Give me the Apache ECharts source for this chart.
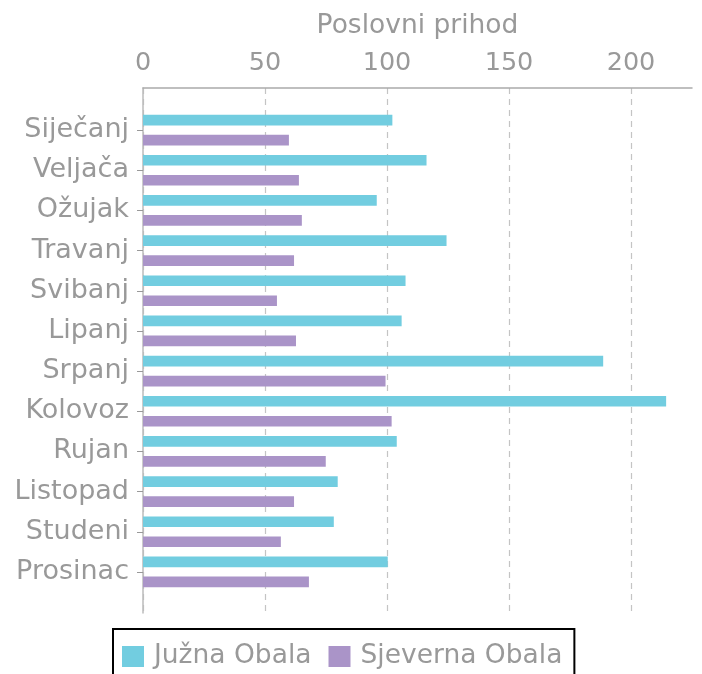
<!DOCTYPE html>
<html>
<head>
<meta charset="utf-8">
<script src="https://cdn.jsdelivr.net/npm/echarts@6/dist/echarts.min.js"></script>
<style>
  html, body { margin: 0; padding: 0; background: #fff; }
  #chart { width: 702px; height: 674px; }
</style>
</head>
<body>
<div id="chart"></div>
<script>
// podaci
const months = ['Siječanj', 'Veljača', 'Ožujak', 'Travanj', 'Svibanj', 'Lipanj',
  'Srpanj', 'Kolovoz', 'Rujan', 'Listopad', 'Studeni', 'Prosinac']
const juznaObala = [102.2, 116.2, 95.8, 124.4, 107.6, 106.0, 188.6, 214.4, 104.0, 79.8, 78.2, 100.3]
const sjevernaObala = [59.8, 63.9, 65.1, 61.9, 54.9, 62.7, 99.4, 101.9, 74.9, 61.9, 56.5, 68.0]
const xTicks = [0, 50, 100, 150, 200]

const font = 'DejaVu Sans'
const grey = '#999999'

const chart = echarts.init(document.getElementById('chart'))

chart.setOption({
  animation: false,
  textStyle: { fontFamily: font },
  legend: {
    left: 113,
    top: 629,
    orient: 'horizontal',
    borderColor: '#000',
    borderWidth: 2,
    borderRadius: 0,
    padding: [14, 12, 20, 9],
    itemWidth: 22,
    itemHeight: 21,
    itemGap: 17,
    icon: 'rect',
    textStyle: { color: grey, fontSize: 26.5, fontFamily: font, padding: [0, 0, 0, 5] },
    data: ['Južna Obala', 'Sjeverna Obala']
  },
  grid: [
    // okvir: os i mreža
    { left: 143, right: 10, top: 88, bottom: 61 },
    // stupci
    { left: 143, right: 10, top: 110, bottom: 82 }
  ],
  xAxis: [
    {
      gridIndex: 0,
      type: 'value',
      position: 'top',
      min: 0,
      max: 225,
      interval: 50,
      name: 'Poslovni prihod',
      nameLocation: 'middle',
      nameGap: 48,
      nameTextStyle: { color: grey, fontSize: 26.5, fontFamily: font },
      axisLine: { show: true, onZero: false, lineStyle: { color: '#aaaaaa', width: 1.5 } },
      axisTick: { show: false },
      axisLabel: {
        color: grey,
        fontSize: 25.5,
        fontFamily: font,
        margin: 12,
        formatter: v => (xTicks.includes(v) ? String(v) : '')
      },
      splitLine: {
        show: true,
        showMaxLine: false,
        lineStyle: { color: '#c4c4c4', type: [6, 5], width: 1.2 }
      }
    },
    {
      gridIndex: 1,
      type: 'value',
      min: 0,
      max: 225,
      show: false
    }
  ],
  yAxis: [
    {
      gridIndex: 0,
      type: 'value',
      min: 0,
      max: 1,
      axisLine: { show: true, onZero: false, lineStyle: { color: '#bbbbbb', width: 1.5 } },
      axisTick: { show: false },
      axisLabel: { show: false },
      splitLine: { show: false }
    },
    {
      gridIndex: 1,
      type: 'category',
      inverse: true,
      data: months,
      axisLine: { show: false },
      axisTick: { show: true, alignWithLabel: true, length: 6, lineStyle: { color: '#999999' } },
      axisLabel: { color: grey, fontSize: 27, fontFamily: font, margin: 14 },
      splitLine: { show: false }
    }
  ],
  series: [
    {
      name: 'Južna Obala',
      type: 'bar',
      xAxisIndex: 1,
      yAxisIndex: 1,
      data: juznaObala,
      barWidth: 10.7,
      barGap: '87%',
      itemStyle: { color: '#72cde0' }
    },
    {
      name: 'Sjeverna Obala',
      type: 'bar',
      xAxisIndex: 1,
      yAxisIndex: 1,
      data: sjevernaObala,
      barWidth: 10.7,
      barGap: '87%',
      itemStyle: { color: '#aa94c8' }
    }
  ]
})
</script>
</body>
</html>
